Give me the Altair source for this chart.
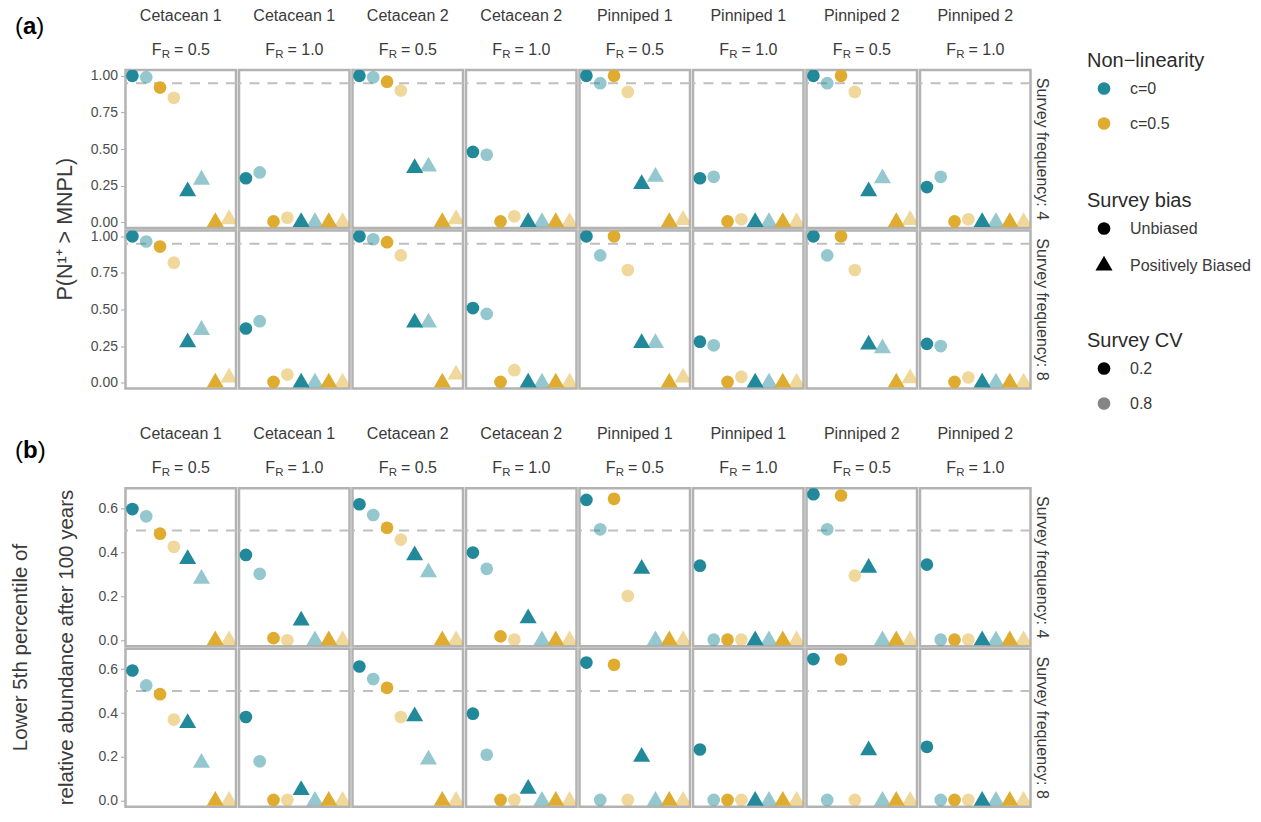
import altair as alt
import pandas as pd

FONT = "Liberation Sans"
TEAL = "#21899A"
GOLD = "#DFAC2F"
STRIP_TXT = "#3a3a3a"
AXIS_TXT = "#4d4d4d"
BORDER = "#b3b3b3"

# ---- categories ----
species = ["Cetacean 1", "Cetacean 1", "Cetacean 2", "Cetacean 2",
           "Pinniped 1", "Pinniped 1", "Pinniped 2", "Pinniped 2"]
fr_values = ["0.5", "1.0", "0.5", "1.0", "0.5", "1.0", "0.5", "1.0"]
frequencies = [4, 8]
nonlinearity = ["c=0", "c=0", "c=0.5", "c=0.5", "c=0", "c=0", "c=0.5", "c=0.5"]
survey_bias = ["Unbiased"] * 4 + ["Positively Biased"] * 4
survey_cv = ["0.2", "0.8"] * 4

# ---- (a) P(N1+ > MNPL); one row per panel column, 8 scenario values ----
a_freq4 = [
    [1.00, 0.99, 0.92, 0.85, 0.21, 0.29, 0.00, 0.02],
    [0.30, 0.34, 0.005, 0.03, 0.00, 0.00, 0.00, 0.00],
    [1.00, 0.99, 0.96, 0.90, 0.37, 0.38, 0.00, 0.02],
    [0.48, 0.46, 0.005, 0.04, 0.00, 0.00, 0.00, 0.00],
    [1.00, 0.95, 1.00, 0.89, 0.26, 0.31, 0.00, 0.015],
    [0.30, 0.31, 0.005, 0.02, 0.00, 0.00, 0.00, 0.00],
    [1.00, 0.95, 1.00, 0.89, 0.21, 0.30, 0.00, 0.015],
    [0.24, 0.31, 0.005, 0.02, 0.00, 0.00, 0.00, 0.00],
]
a_freq8 = [
    [1.00, 0.965, 0.93, 0.82, 0.275, 0.36, 0.00, 0.035],
    [0.37, 0.42, 0.005, 0.055, 0.00, 0.00, 0.00, 0.00],
    [1.00, 0.98, 0.96, 0.87, 0.41, 0.41, 0.00, 0.055],
    [0.51, 0.47, 0.005, 0.085, 0.00, 0.00, 0.00, 0.00],
    [1.00, 0.87, 1.00, 0.77, 0.27, 0.27, 0.00, 0.035],
    [0.28, 0.255, 0.005, 0.04, 0.00, 0.00, 0.00, 0.00],
    [1.00, 0.87, 1.00, 0.77, 0.26, 0.235, 0.00, 0.03],
    [0.265, 0.25, 0.005, 0.035, 0.00, 0.00, 0.00, 0.00],
]

# ---- (b) lower 5th percentile of relative abundance after 100 years ----
b_freq4 = [
    [0.598, 0.565, 0.486, 0.426, 0.37, 0.28, 0.00, 0.00],
    [0.389, 0.303, 0.01, 0.00, 0.09, 0.00, 0.00, 0.00],
    [0.62, 0.571, 0.513, 0.459, 0.387, 0.31, 0.00, 0.00],
    [0.40, 0.326, 0.018, 0.003, 0.10, 0.00, 0.00, 0.00],
    [0.64, 0.506, 0.645, 0.202, 0.326, 0.00, 0.00, 0.00],
    [0.34, 0.003, 0.003, 0.003, 0.00, 0.00, 0.00, 0.00],
    [0.666, 0.506, 0.66, 0.295, 0.33, 0.00, 0.00, 0.00],
    [0.345, 0.003, 0.003, 0.003, 0.00, 0.00, 0.00, 0.00],
]
b_freq8 = [
    [0.594, 0.526, 0.486, 0.37, 0.354, 0.173, 0.00, 0.00],
    [0.382, 0.18, 0.004, 0.004, 0.049, 0.00, 0.00, 0.00],
    [0.612, 0.555, 0.515, 0.382, 0.385, 0.188, 0.00, 0.00],
    [0.397, 0.21, 0.004, 0.004, 0.055, 0.00, 0.00, 0.00],
    [0.63, 0.004, 0.62, 0.004, 0.20, 0.00, 0.00, 0.00],
    [0.234, 0.004, 0.004, 0.004, 0.00, 0.00, 0.00, 0.00],
    [0.646, 0.004, 0.644, 0.004, 0.23, 0.00, 0.00, 0.00],
    [0.246, 0.004, 0.004, 0.004, 0.00, 0.00, 0.00, 0.00],
]


def build_frame(tables):
    rows = []
    for freq, table in zip(frequencies, tables):
        for ci, vals in enumerate(table):
            for xi, v in enumerate(vals):
                rows.append({
                    "freq": freq, "col": ci, "x": xi + 1, "value": v,
                    "nonlin": nonlinearity[xi], "bias": survey_bias[xi], "cv": survey_cv[xi],
                    "species": species[ci], "fr_eq": "= " + fr_values[ci],
                    "freq_label": "Survey frequency: " + str(freq),
                })
    return pd.DataFrame(rows)


df_a = build_frame([a_freq4, a_freq8])
df_b = build_frame([b_freq4, b_freq8])

TRI = "M0,-1.555L1.347,0.778L-1.347,0.778Z"
W, H, GAP = 110.5, 158, 2.5
SYM = 161

leg_common = dict(orient="none", legendX=961.5, titleFontSize=20, titleFont=FONT,
                  titleFontWeight="normal", titleColor="#2b2b2b", labelFontSize=16,
                  labelFont=FONT, labelColor="#3a3a3a", symbolSize=SYM, symbolOffset=9,
                  labelOffset=18, rowPadding=19, titlePadding=10, padding=0,
                  symbolStrokeWidth=0)
leg_color = alt.Legend(title="Non\u2212linearity", legendY=-19.5, symbolOpacity=1, **leg_common)
leg_shape = alt.Legend(title="Survey bias", legendY=120.5, symbolFillColor="black",
                       symbolOpacity=1, **leg_common)
leg_cv = alt.Legend(title="Survey CV", legendY=260.5, symbolFillColor="black", **leg_common)

TOP = "datum.x == 1 && datum.freq == 4"
CORNER = TOP + " && datum.col == 0"
RIGHT = "datum.x == 1 && datum.col == 7"


def txt(text=None, field=None, x=0.0, y=0.0, size=16, color=STRIP_TXT, align="left",
        weight="normal", angle=0, flt="true"):
    kw = dict(fontSize=size, color=color, align=align, baseline="alphabetic",
              fontWeight=weight, angle=angle, font=FONT)
    if text is not None:
        kw["text"] = text
    mk = alt.Chart().mark_text(**kw)
    enc = dict(x=alt.value(x), y=alt.value(y))
    if field is not None:
        enc["text"] = alt.Text(field + ":N")
    return mk.encode(**enc).transform_filter(flt)


def points_layer(domain, ticks, fmt):
    return alt.Chart().mark_point(filled=True, size=SYM, strokeWidth=0, clip=True).encode(
        x=alt.X("x:Q", scale=alt.Scale(domain=[0.5, 8.5], nice=False, zero=False), axis=None),
        y=alt.Y("value:Q", scale=alt.Scale(domain=domain, nice=False, zero=False),
                axis=alt.Axis(values=ticks, tickCount=10, format=fmt, title=None, grid=False,
                              domain=False, ticks=True, tickSize=5, tickColor=BORDER,
                              tickWidth=1.2, labelFontSize=14, labelColor=AXIS_TXT,
                              labelPadding=3, labelFont=FONT, labelOverlap=False,
                              labelFlush=False)),
        color=alt.Color("nonlin:N", scale=alt.Scale(domain=["c=0", "c=0.5"], range=[TEAL, GOLD]),
                        legend=leg_color),
        shape=alt.Shape("bias:N", scale=alt.Scale(domain=["Unbiased", "Positively Biased"],
                                                  range=["circle", TRI]), legend=leg_shape),
        opacity=alt.Opacity("cv:O", scale=alt.Scale(domain=["0.2", "0.8"], range=[1.0, 0.48]),
                            legend=leg_cv),
    )


def make_part(df, domain, ticks, fmt, ref, letter, tag_y, title_layers):
    bold_w = 13.3 if letter == "a" else 14.7
    layers = [
        alt.Chart().mark_rule(color="#bfbfbf", strokeWidth=2, strokeDash=[10, 8]).encode(
            y=alt.datum(ref)).transform_filter("datum.x == 1"),
        points_layer(domain, ticks, fmt),
        txt(field="species", x=W / 2, y=-49, align="center", flt=TOP),
        txt(text="F", x=W / 2 - 29.1, y=-15.5, flt=TOP),
        txt(text="R", x=W / 2 - 19.1, y=-12, size=11.5, flt=TOP),
        txt(field="fr_eq", x=W / 2 - 6.8, y=-15.5, flt=TOP),
        txt(field="freq_label", x=W + 6.5, y=H / 2, align="center", angle=90, flt=RIGHT),
        txt(text="(", x=-110.5, y=tag_y, size=24, color="black", flt=CORNER),
        txt(text=letter, x=-102.5, y=tag_y, size=24, color="black", weight="bold", flt=CORNER),
        txt(text=")", x=-102.5 + bold_w, y=tag_y, size=24, color="black", flt=CORNER),
        alt.Chart().mark_rule(color="white", strokeWidth=1).encode(
            x=alt.value(-117.5), y=alt.value(2), y2=alt.value(3)).transform_filter(CORNER),
    ] + title_layers
    return alt.layer(*layers).properties(width=W, height=H).facet(
        column=alt.Column("col:O", header=None),
        row=alt.Row("freq:O", header=None),
        data=df, spacing=GAP, bounds="flush")


title_a = [txt(text="P(N\u00b9\u207a > MNPL)", x=-53.8, y=H + GAP / 2, size=21.5,
               color="#3a3a3a", align="center", angle=270, flt=CORNER)]
title_b = [
    txt(text="Lower 5th percentile of", x=-98.8, y=H + GAP / 2, size=20.5,
        color="#3a3a3a", align="center", angle=270, flt=CORNER),
    txt(text="relative abundance after 100 years", x=-52.2, y=H + GAP / 2, size=20.5,
        color="#3a3a3a", align="center", angle=270, flt=CORNER),
]

chart_a = make_part(df_a, [-0.04, 1.04], [0, 0.25, 0.5, 0.75, 1.0], ".2f", 0.95, "a", -36, title_a)
chart_b = make_part(df_b, [-0.027, 0.693], [0, 0.2, 0.4, 0.6], ".1f", 0.5, "b", -30.7, title_b)

PAD_L, PAD_T = 117.5, 62
chart = alt.vconcat(chart_a, chart_b, spacing=34.25).properties(
    autosize=alt.AutoSizeParams(type="none"),
    padding={"left": PAD_L, "top": PAD_T, "right": 1244 - PAD_L, "bottom": 805 - PAD_T},
).configure(font=FONT).configure_view(stroke=BORDER, strokeWidth=2.5)

chart.save("out.html", embed_options={"renderer": "svg", "actions": False})
